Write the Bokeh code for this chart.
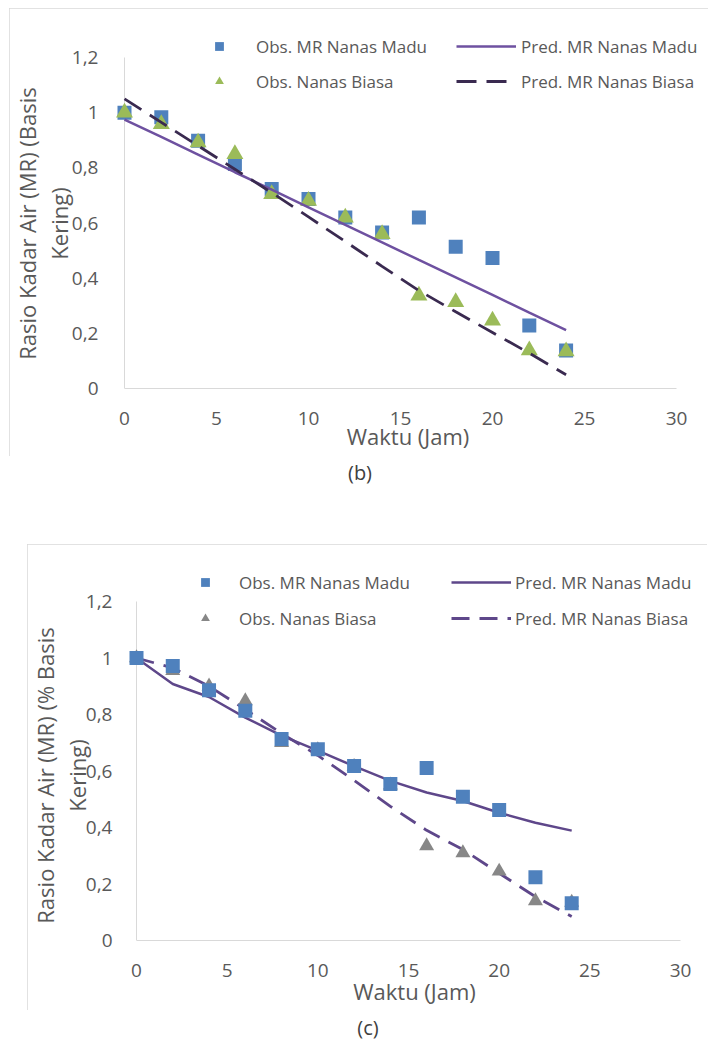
from bokeh.plotting import figure
from bokeh.models import (Range1d, FixedTicker, CustomJSTickFormatter, Legend,
                          LegendItem, Div, Spacer)
from bokeh.layouts import column, row
from bokeh.embed import file_html
from bokeh.resources import INLINE

# ---------------- data ----------------
time_h = [0, 2, 4, 6, 8, 10, 12, 14, 16, 18, 20, 22, 24]

# panel (b)
b_obs_madu = [1.00, 0.983, 0.898, 0.814, 0.723, 0.687, 0.620, 0.566, 0.620, 0.514, 0.473, 0.228, 0.138]
b_obs_biasa = [1.00, 0.959, 0.892, 0.850, 0.705, 0.680, 0.620, 0.560, 0.337, 0.313, 0.246, 0.138, 0.135]
b_pred_madu = [0.975, 0.912, 0.848, 0.784, 0.721, 0.657, 0.593, 0.530, 0.466, 0.403, 0.339, 0.275, 0.212]
b_pred_biasa = [1.050, 0.965, 0.880, 0.795, 0.710, 0.622, 0.533, 0.443, 0.355, 0.278, 0.203, 0.128, 0.050]

# panel (c)
c_obs_madu = [1.00, 0.972, 0.886, 0.813, 0.713, 0.677, 0.618, 0.554, 0.611, 0.509, 0.462, 0.224, 0.132]
c_obs_biasa = [1.00, 0.955, 0.900, 0.848, 0.700, 0.675, 0.615, 0.550, 0.335, 0.310, 0.245, 0.140, 0.135]
c_pred_madu = [1.00, 0.908, 0.862, 0.789, 0.725, 0.672, 0.617, 0.565, 0.524, 0.494, 0.452, 0.417, 0.389]
c_pred_biasa = [1.00, 0.965, 0.900, 0.818, 0.733, 0.655, 0.567, 0.475, 0.390, 0.322, 0.238, 0.155, 0.085]

x_ticks = [0, 5, 10, 15, 20, 25, 30]
y_ticks = [0, 0.2, 0.4, 0.6, 0.8, 1.0, 1.2]

label_obs_madu = "Obs. MR Nanas Madu"
label_obs_biasa = "Obs. Nanas Biasa"
label_pred_madu = "Pred. MR Nanas Madu"
label_pred_biasa = "Pred. MR Nanas Biasa"
x_title = "Waktu (Jam)"
y_title_b = ["Rasio Kadar Air (MR) (Basis", "Kering)"]
y_title_c = ["Rasio Kadar Air (MR) (% Basis", "Kering)"]
caption_b = "(b)"
caption_c = "(c)"

# ---------------- style ----------------
FONT = "Open Sans"
TXT = "#595959"
AXIS_GREY = "#d9d9d9"
BLUE = "#4F81BD"
GREEN = "#9BBB59"
GREY = "#878787"
BLANK = "\u2800"   # blank (non-trimmed) filler used to push the title down


def make_panel(width, height, left, right, top, bottom,
               x0_off, x30_off, y12_off,
               y_title_lines, y_title_pad, y_title_standoff, x_title_standoff,
               legend_a_pos, legend_b_pos, spacing,
               stand_a, stand_b, tri_color, tri_size, solid_color, dash_color,
               dash, obs_m, obs_b, pred_m, pred_b, tri_on_top):
    # x0_off / x30_off: pixel distance of x=0 / x=30 from the frame's left edge
    # y12_off: pixel distance of y=1.2 from the frame's bottom edge
    frame_w = width - left - right
    frame_h = height - top - bottom
    ppx = (x30_off - x0_off) / 30.0
    ppy = y12_off / 1.2
    x_rng = Range1d(-x0_off / ppx, (frame_w - x0_off) / ppx)
    y_rng = Range1d(0, frame_h / ppy)
    p = figure(width=width, height=height, output_backend="svg",
               toolbar_location=None, x_range=x_rng, y_range=y_rng,
               min_border_left=left, min_border_right=right,
               min_border_top=top, min_border_bottom=bottom)
    p.outline_line_color = None
    p.grid.visible = False
    p.background_fill_color = "white"
    p.border_fill_color = "white"
    p.styles = {"outline": "1px solid #d9d9d9", "outline-offset": "-1px"}

    # axes
    p.xaxis.ticker = FixedTicker(ticks=x_ticks)
    p.yaxis.ticker = FixedTicker(ticks=y_ticks)
    p.yaxis.formatter = CustomJSTickFormatter(
        code="return tick.toFixed(1).replace('.', ',').replace(',0', '');")
    p.xaxis.bounds = (x_ticks[0], x_ticks[-1])
    for ax in (p.xaxis, p.yaxis):
        ax.major_tick_line_color = None
        ax.minor_tick_line_color = None
        ax.major_label_text_font = FONT
        ax.major_label_text_font_size = "19px"
        ax.major_label_text_color = TXT
        ax.axis_label_text_font = FONT
        ax.axis_label_text_font_size = "22px"
        ax.axis_label_text_font_style = "normal"
        ax.axis_label_text_color = TXT
    p.xaxis.axis_line_color = AXIS_GREY
    p.yaxis.axis_line_color = None
    p.xaxis.major_label_standoff = 17
    p.yaxis.major_label_standoff = 5
    p.xaxis.axis_label = x_title
    p.xaxis.axis_label_standoff = x_title_standoff
    pad = BLANK * y_title_pad
    p.yaxis.axis_label = "\n".join(line + pad for line in y_title_lines)
    p.yaxis.axis_label_standoff = y_title_standoff
    p.yaxis.axis_label_text_line_height = 1.05
    # vertical axis line at x = 0 (from 0 to 1.2)
    p.segment(x0=[x_ticks[0]], y0=[y_ticks[0]], x1=[x_ticks[0]], y1=[y_ticks[-1]],
              line_color=AXIS_GREY, line_width=1)

    # series
    if tri_on_top:
        r_sq = p.scatter(time_h, obs_m, marker="square", size=14,
                         fill_color=BLUE, line_color=None)
        r_tri = p.scatter(time_h, obs_b, marker="triangle", size=tri_size,
                          fill_color=tri_color, line_color=None)
        r_sol = p.line(time_h, pred_m, line_color=solid_color, line_width=2.5)
        r_dash = p.line(time_h, pred_b, line_color=dash_color, line_width=2.8,
                        line_dash=dash)
    else:
        r_sol = p.line(time_h, pred_m, line_color=solid_color, line_width=2.5)
        r_dash = p.line(time_h, pred_b, line_color=dash_color, line_width=2.8,
                        line_dash=dash)
        r_tri = p.scatter(time_h, obs_b, marker="triangle", size=tri_size,
                          fill_color=tri_color, line_color=None)
        r_sq = p.scatter(time_h, obs_m, marker="square", size=14,
                         fill_color=BLUE, line_color=None)

    common = dict(orientation="vertical", glyph_width=60, glyph_height=22,
                  label_height=24, spacing=spacing, padding=0, margin=0,
                  border_line_color=None, background_fill_alpha=0,
                  label_text_font=FONT, label_text_font_size="17px",
                  label_text_color=TXT)
    leg_a = Legend(items=[LegendItem(label=label_obs_madu, renderers=[r_sq]),
                          LegendItem(label=label_obs_biasa, renderers=[r_tri])],
                   location=legend_a_pos, label_standoff=stand_a, **common)
    leg_b = Legend(items=[LegendItem(label=label_pred_madu, renderers=[r_sol]),
                          LegendItem(label=label_pred_biasa, renderers=[r_dash])],
                   location=legend_b_pos, label_standoff=stand_b, **common)
    p.add_layout(leg_a)
    p.add_layout(leg_b)
    return p


# panel (b): page x 9..708, y 8..456 ; frame x 109..706, y 10..388
p_b = make_panel(width=699, height=448, left=100, right=2, top=2, bottom=68,
                 x0_off=15, x30_off=567, y12_off=331,
                 y_title_lines=y_title_b, y_title_pad=3, y_title_standoff=-5,
                 x_title_standoff=-7,
                 legend_a_pos=(80, 295), legend_b_pos=(347, 295), spacing=11,
                 stand_a=7, stand_b=5, tri_color=GREEN, tri_size=17,
                 solid_color="#6E51A0", dash_color="#3A2A50", dash="20 10",
                 obs_m=b_obs_madu, obs_b=b_obs_biasa, pred_m=b_pred_madu,
                 pred_b=b_pred_biasa, tri_on_top=True)

# panel (c): page x 27..707, y 544..1010 ; frame x 123..705, y 546..940
p_c = make_panel(width=680, height=466, left=96, right=2, top=2, bottom=70,
                 x0_off=13, x30_off=557, y12_off=339,
                 y_title_lines=y_title_c, y_title_pad=4, y_title_standoff=-9,
                 x_title_standoff=-4,
                 legend_a_pos=(52, 310), legend_b_pos=(328, 310), spacing=12,
                 stand_a=4, stand_b=4, tri_color=GREY, tri_size=15,
                 solid_color="#5E478A", dash_color="#5E478A", dash="18 10",
                 obs_m=c_obs_madu, obs_b=c_obs_biasa, pred_m=c_pred_madu,
                 pred_b=c_pred_biasa, tri_on_top=False)


def caption(txt, cx, cy, h):
    style = ("position:absolute;left:%dpx;top:%dpx;transform:translate(-50%%,-50%%);"
             "font-family:'Open Sans';font-size:20px;line-height:22px;color:#404040;"
             "white-space:nowrap;" % (cx, cy))
    return Div(text='<div style="%s">%s</div>' % (style, txt), width=710,
               height=h, margin=0, styles={"position": "relative"})


cap_b = caption(caption_b, 360, 17, 88)
cap_c = caption(caption_c, 368, 18, 30)

layout = column(Spacer(width=710, height=8),
                row(Spacer(width=9, height=448), p_b),
                cap_b,
                row(Spacer(width=27, height=466), p_c),
                cap_c)

open("out.html", "w").write(file_html(layout, INLINE))
